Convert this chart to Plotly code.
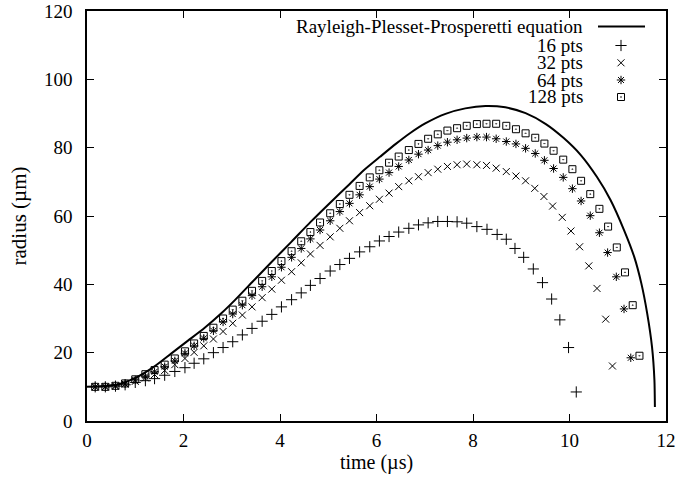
import plotly.graph_objects as go

FONT = "Liberation Serif"

# ---- data ----
curve_t = [0.0, 0.4, 0.71, 1.0, 1.40, 1.75, 2.10, 2.44, 2.79, 3.06, 3.42, 3.83, 4.24, 4.63,
           5.04, 5.44, 5.73, 6.08, 6.40, 6.70, 7.01, 7.43, 7.84, 8.26, 8.67, 9.09, 9.51, 9.88,
           10.23, 10.57, 10.85, 11.13, 11.34, 11.49, 11.61, 11.71, 11.76, 11.77]
curve_r = [10.0, 10.3, 11.0, 12.6, 16.0, 19.8, 23.6, 27.3, 31.6, 35.3, 40.6, 46.6, 52.5, 58.2,
           63.9, 69.3, 73.3, 77.4, 81.1, 84.3, 87.1, 89.9, 91.5, 92.2, 91.8, 90.1, 86.9, 82.8,
           77.9, 71.4, 64.7, 55.9, 48.1, 40.2, 31.5, 21.7, 12.0, 4.1]

t16 = [0.17, 0.38, 0.59, 0.79, 1.00, 1.21, 1.40, 1.61, 1.82, 2.03, 2.22, 2.42, 2.62, 2.82, 3.02,
       3.22, 3.42, 3.63, 3.83, 4.03, 4.24, 4.44, 4.63, 4.83, 5.04, 5.24, 5.44, 5.65, 5.86, 6.06,
       6.26, 6.46, 6.67, 6.87, 7.07, 7.27, 7.47, 7.67, 7.87, 8.08, 8.29, 8.50, 8.69, 8.87, 9.05,
       9.25, 9.44, 9.63, 9.80, 9.98, 10.14]
r16 = [10.0, 10.0, 10.2, 10.6, 11.3, 11.8, 12.4, 13.4, 14.5, 15.6, 16.9, 18.2, 20.0, 21.5, 23.2,
       25.2, 27.1, 29.2, 31.2, 33.4, 35.5, 37.5, 39.7, 41.7, 43.9, 45.8, 47.6, 49.5, 51.0, 52.7,
       54.0, 55.3, 56.4, 57.4, 58.0, 58.4, 58.4, 58.3, 57.9, 56.9, 56.1, 54.6, 53.2, 50.5, 47.9,
       44.5, 40.5, 35.7, 29.6, 21.5, 8.5]

t32 = [0.17, 0.38, 0.59, 0.79, 1.00, 1.21, 1.40, 1.61, 1.82, 2.03, 2.22, 2.42, 2.62, 2.82, 3.02,
       3.22, 3.42, 3.63, 3.83, 4.03, 4.24, 4.44, 4.63, 4.83, 5.04, 5.24, 5.44, 5.65, 5.86, 6.06,
       6.26, 6.46, 6.67, 6.87, 7.07, 7.27, 7.47, 7.67, 7.87, 8.08, 8.28, 8.48, 8.69, 8.89, 9.09,
       9.28, 9.47, 9.65, 9.85, 10.03, 10.21, 10.40, 10.57, 10.75, 10.89]
r32 = [10.0, 10.0, 10.2, 10.8, 11.6, 12.6, 13.6, 14.8, 16.5, 18.3, 20.1, 22.0, 24.0, 26.2, 28.6,
       31.0, 33.4, 36.1, 38.6, 41.2, 43.7, 46.3, 48.9, 51.4, 53.9, 56.4, 58.6, 61.0, 63.0, 64.9,
       66.7, 68.6, 70.3, 71.5, 72.7, 73.7, 74.5, 75.0, 75.2, 75.0, 74.8, 74.0, 73.0, 71.7, 70.3,
       68.1, 65.7, 62.9, 59.6, 55.6, 51.0, 45.4, 38.8, 29.8, 16.1]

t64 = [0.17, 0.38, 0.59, 0.79, 1.00, 1.21, 1.40, 1.61, 1.82, 2.03, 2.22, 2.42, 2.62, 2.82, 3.02,
       3.22, 3.42, 3.63, 3.83, 4.03, 4.24, 4.44, 4.63, 4.83, 5.04, 5.24, 5.44, 5.65, 5.86, 6.06,
       6.26, 6.46, 6.67, 6.87, 7.07, 7.27, 7.47, 7.67, 7.87, 8.08, 8.28, 8.48, 8.69, 8.89, 9.09,
       9.29, 9.48, 9.67, 9.87, 10.06, 10.24, 10.43, 10.62, 10.79, 10.97, 11.13, 11.27]
r64 = [10.0, 10.0, 10.3, 10.9, 12.0, 13.1, 14.4, 15.9, 17.6, 19.8, 22.0, 24.2, 26.4, 29.0, 31.3,
       33.9, 36.7, 39.3, 42.2, 45.0, 47.9, 50.5, 53.3, 55.9, 58.6, 61.3, 63.7, 66.2, 68.6, 70.8,
       72.7, 74.5, 76.4, 78.1, 79.3, 80.6, 81.6, 82.3, 82.8, 83.1, 83.1, 82.6, 81.8, 81.1, 79.8,
       78.3, 76.3, 73.9, 71.3, 68.0, 64.4, 60.1, 55.1, 49.3, 42.2, 32.8, 18.5]

t128 = [0.17, 0.38, 0.59, 0.79, 1.00, 1.21, 1.40, 1.61, 1.82, 2.03, 2.22, 2.42, 2.62, 2.82, 3.02,
        3.22, 3.42, 3.63, 3.83, 4.03, 4.24, 4.44, 4.63, 4.83, 5.04, 5.24, 5.44, 5.65, 5.86, 6.06,
        6.26, 6.46, 6.67, 6.87, 7.07, 7.27, 7.47, 7.67, 7.87, 8.08, 8.28, 8.48, 8.69, 8.89, 9.09,
        9.29, 9.48, 9.67, 9.87, 10.06, 10.24, 10.43, 10.62, 10.80, 10.98, 11.15, 11.31, 11.45]
r128 = [10.0, 10.0, 10.3, 11.0, 12.2, 13.7, 14.9, 16.5, 18.3, 20.4, 22.7, 24.9, 27.3, 30.0, 32.6,
        35.2, 38.1, 41.0, 43.9, 46.8, 49.7, 52.6, 55.3, 58.1, 60.8, 63.5, 66.2, 68.8, 71.3, 73.4,
        75.6, 77.4, 79.3, 81.1, 82.6, 83.9, 85.0, 85.7, 86.4, 86.9, 87.0, 87.0, 86.4, 85.4, 84.2,
        82.9, 81.2, 79.1, 76.5, 73.7, 70.3, 66.4, 62.1, 56.9, 50.8, 43.5, 33.9, 19.1]

legend_labels = ["Rayleigh-Plesset-Prosperetti equation", "16 pts", "32 pts", "64 pts", "128 pts"]

x_ticks = [0, 2, 4, 6, 8, 10, 12]
y_ticks = [0, 20, 40, 60, 80, 100, 120]

# ---- figure ----
W, H = 678, 480
ML, MR, MT, MB = 87, 12, 11, 59
plot_w = W - ML - MR
plot_h = H - MT - MB

def px_to_paper_x(px):
    return (px - ML) / plot_w

def py_to_paper_y(py):
    return (H - MB - py) / plot_h

row_y = [26.5, 45.5, 62.8, 80.0, 97.0]   # legend row centres (px)
text_right = 585
sym_center = 621

fig = go.Figure()

fig.add_trace(go.Scatter(
    x=curve_t, y=curve_r, mode="lines", name="",
    line=dict(color="black", width=2, shape="spline", smoothing=0.6),
    legend="legend"))

marker_specs = [
    (t16, r16, "cross-thin-open", 8, "legend2"),
    (t32, r32, "x-thin-open", 7, "legend3"),
    (t64, r64, "asterisk-open", 7, "legend4"),
    (t128, r128, "square-open-dot", 7, "legend5"),
]
for tt, rr, sym, sz, lg in marker_specs:
    fig.add_trace(go.Scatter(
        x=tt, y=rr, mode="markers", name="",
        marker=dict(symbol=sym, size=sz, color="black", line=dict(width=1, color="black")),
        legend=lg))

legend_common = dict(bgcolor="rgba(0,0,0,0)", borderwidth=0, font=dict(size=10, family=FONT),
                     xanchor="left", yanchor="middle")
legends = {}
names = ["legend", "legend2", "legend3", "legend4", "legend5"]
for i, nm in enumerate(names):
    d = dict(legend_common)
    if i == 0:
        d["itemwidth"] = 47
        d["x"] = px_to_paper_x(sym_center - 28)
    else:
        d["x"] = px_to_paper_x(sym_center - 20)
    d["y"] = py_to_paper_y(row_y[i])
    legends[nm] = d

annotations = []
for i, lab in enumerate(legend_labels):
    annotations.append(dict(
        text=lab, xref="paper", yref="paper",
        x=px_to_paper_x(text_right), y=py_to_paper_y(row_y[i]),
        xanchor="right", yanchor="middle", showarrow=False,
        font=dict(family=FONT, size=19, color="black")))

axis_common = dict(
    showline=True, linecolor="black", linewidth=1.5, mirror="ticks",
    ticks="inside", ticklen=7, tickwidth=1, tickcolor="black",
    showgrid=False, zeroline=False, automargin=False,
    tickfont=dict(family=FONT, size=19, color="black"),
)

fig.update_layout(
    width=W, height=H,
    margin=dict(l=ML, r=MR, t=MT, b=MB, autoexpand=False),
    paper_bgcolor="white", plot_bgcolor="white",
    font=dict(family=FONT, size=19, color="black"),
    showlegend=True,
    annotations=annotations,
    xaxis=dict(axis_common, range=[0, 12], tickvals=x_ticks,
               ticktext=[str(v) for v in x_ticks], ticklabelstandoff=1,
               title=dict(text="time (µs)", font=dict(family=FONT, size=20), standoff=5)),
    yaxis=dict(axis_common, range=[0, 120], tickvals=y_ticks,
               ticktext=[str(v) for v in y_ticks], ticklabelstandoff=9,
               title=dict(text="radius (µm)", font=dict(family=FONT, size=21), standoff=12)),
    **legends,
)

fig.write_html("out.html")
